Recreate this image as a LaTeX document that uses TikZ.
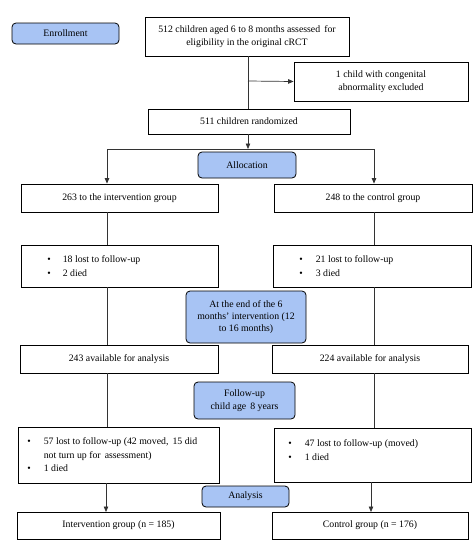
\documentclass[tikz,border=0pt]{standalone}
\usepackage{fontspec}
\setmainfont{Liberation Serif}
\usetikzlibrary{arrows.meta}
\definecolor{stagefill}{RGB}{168,196,244}
\tikzset{
	box/.style={draw, line width=0.8pt, inner sep=1pt, align=center},
	stage/.style={box, fill=stagefill, rounded corners=4pt},
	link/.style={line width=0.7pt, draw=black!80},
	arr/.style={link, -{Triangle[length=5.5pt, width=4.5pt]}},
	listtext/.style={anchor=north west, inner sep=0pt, font=\fontsize{9.8}{13.7}\selectfont},
}
\newcommand{\blist}[3]{\begin{tabular}{@{}p{#1}@{}p{#2}@{}}#3\end{tabular}}

\begin{document}
\begin{tikzpicture}[x=1pt, y=-1pt, font=\fontsize{9.8}{13}\selectfont]
		\useasboundingbox[fill=white] (0,0) rectangle (475,550);

		% stages
		\node[stage, minimum width=107pt, minimum height=21pt] (1) at (65.5,33.5) {Enrollment};
		\node[stage, minimum width=98pt, minimum height=26pt] (2) at (247,165) {Allocation};
		\node[stage, minimum width=120pt, minimum height=52pt, font=\fontsize{9.8}{12}\selectfont] (3) at (246,317) {At the end of the 6\\months' intervention (12\\to 16 months)};
		\node[stage, minimum width=101pt, minimum height=37pt] (4) at (244.5,400.5) {Follow-up\\child age\, 8 years};
		\node[stage, minimum width=87pt, minimum height=21pt] (5) at (245.5,496.5) {Analysis};

		% boxes
		\node[box, minimum width=204pt, minimum height=39pt] (6) at (247,36.5) {512 children aged 6 to 8 months assessed\, for\\eligibility in the original cRCT};
		\node[box, minimum width=174pt, minimum height=39pt] (7) at (381,81.5) {1 child with congenital\\abnormality excluded};
		\node[box, minimum width=202pt, minimum height=25pt] (8) at (249,121.5) {511 children randomized};
		\node[box, minimum width=197pt, minimum height=28pt] (9) at (119.5,198) {263 to the intervention group};
		\node[box, minimum width=198pt, minimum height=28pt] (10) at (373,198) {248 to the control group};
		\node[box, minimum width=197pt, minimum height=42pt] (11) at (119.5,266) {};
		\node[box, minimum width=198pt, minimum height=42pt] (12) at (372,266) {};
		\node[box, minimum width=198pt, minimum height=28pt] (13) at (119,359) {243 available for analysis};
		\node[box, minimum width=196pt, minimum height=28pt] (14) at (370,359) {224 available for analysis};
		\node[box, minimum width=201pt, minimum height=56pt] (15) at (118.5,455) {};
		\node[box, minimum width=197pt, minimum height=54pt] (16) at (372.5,455) {};
		\node[box, minimum width=203pt, minimum height=27pt] (17) at (118.5,525.5) {Intervention group (n = 185)};
		\node[box, minimum width=196pt, minimum height=27pt] (18) at (370,525.5) {Control group (n = 176)};

		% bullet texts
		\node[listtext] (11a) at ([shift={(26.5,8)}]11.north west) {\blist{15.5pt}{150pt}{\textbullet & 18 lost to follow-up\\ \textbullet & 2 died}};
		\node[listtext] (12a) at ([shift={(26.5,8)}]12.north west) {\blist{16.5pt}{150pt}{\textbullet & 21 lost to follow-up\\ \textbullet & 3 died}};
		\node[listtext] (15a) at ([shift={(9.5,8)}]15.north west) {\blist{16.5pt}{172pt}{\textbullet & 57 lost to follow-up (42 moved,\, 15 did\newline not turn up for\, assessment)\\ \textbullet & 1 died}};
		\node[listtext] (16a) at ([shift={(14.5,9)}]16.north west) {\blist{16.5pt}{160pt}{\textbullet & 47 lost to follow-up (moved)\\ \textbullet & 1 died}};

		% connectors
		\coordinate (s) at (248,149);
		\coordinate (sL) at (107,149);
		\coordinate (sR) at (374,149);
		\draw[link] (6.south -| s) -- (8.north -| s);
		\draw[arr] (248,81) -- (7.west);
		\draw[arr] (8.south -| s) -- (s);
		\draw[link] (sL) -- (sR);
		\draw[arr] (sL) -- (sL |- 9.north);
		\draw[arr] (sR) -- (sR |- 10.north);
		\draw[link] (sL |- 9.south) -- (sL |- 11.north);
		\draw[link] (sR |- 10.south) -- (sR |- 12.north);
		\draw[link] (sL |- 11.south) -- (sL |- 13.north);
		\draw[link] (sR |- 12.south) -- (sR |- 14.north);
		\draw[link] (sL |- 13.south) -- (sL |- 15.north);
		\draw[link] (sR |- 14.south) -- (sR |- 16.north);
		\draw[arr] (106,483) -- (106,512);
		\draw[arr] (371,482) -- (371,512);
	\end{tikzpicture}
\end{document}
